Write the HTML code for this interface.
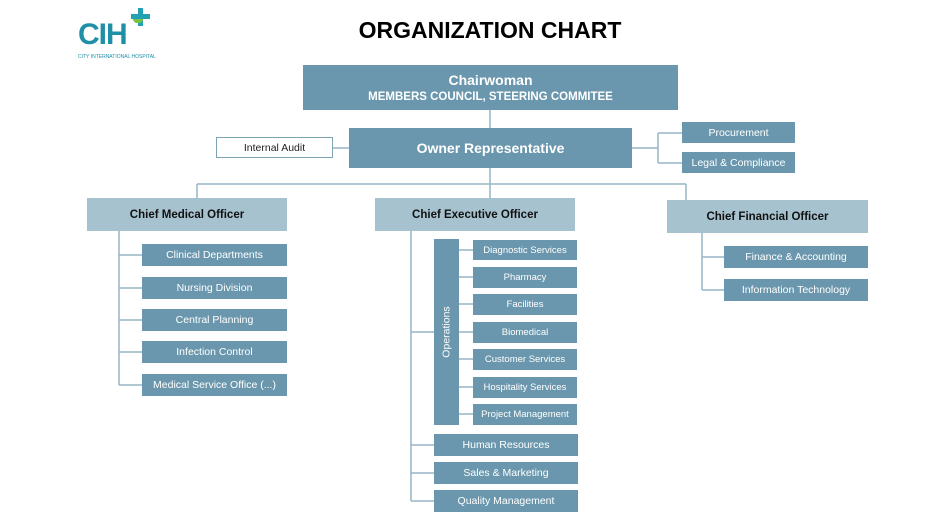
<!DOCTYPE html>
<html><head><meta charset="utf-8"><style>
body{margin:0;width:943px;height:526px;background:#fff;position:relative;overflow:hidden;font-family:"Liberation Sans",sans-serif}
.b{position:absolute;background:#6a97ad;color:#fff;display:flex;align-items:center;justify-content:center;font-size:10.5px;white-space:nowrap;box-sizing:border-box}
.l{background:#a6c2cf;color:#111;font-weight:bold;font-size:11.5px}
svg{position:absolute;left:0;top:0}
</style></head><body>
<svg width="943" height="526">
<g stroke="#97b6c6" stroke-width="1.5" fill="none">
<path d="M490 110V128M333 148H349M632 148H658M658 133V163M658 133H682M658 163H682"/>
<path d="M490 168V198M197 184H686M197 184V198M686 184V200"/>
<path d="M119 231V385M119 255H142M119 288H142M119 320H142M119 352H142M119 385H142"/>
<path d="M411 231V501M411 332H434M411 445H434M411 473H434M411 501H434"/>
<path d="M459 250H473M459 277H473M459 304H473M459 332H473M459 359H473M459 387H473M459 414H473"/>
<path d="M702 233V290M702 257H724M702 290H724"/>
</g>
</svg>
<div style="position:absolute;left:78px;top:18px;font-size:30px;font-weight:bold;color:#1f8fa6;letter-spacing:-1px">CIH</div>
<div style="position:absolute;left:138px;top:8px;width:5px;height:18px;background:#23a0b3"></div>
<div style="position:absolute;left:131px;top:14px;width:19px;height:5px;background:#23a0b3"></div>
<div style="position:absolute;left:133px;top:19px;width:10px;height:4px;background:#7ac143;border-radius:0 0 6px 6px"></div>
<div style="position:absolute;left:78px;top:54px;font-size:5px;color:#1f8fa6">CITY INTERNATIONAL HOSPITAL</div>
<div style="position:absolute;left:340px;top:17px;width:300px;text-align:center;font-size:23px;font-weight:bold;color:#000">ORGANIZATION CHART</div>

<div class="b" style="left:303px;top:65px;width:375px;height:45px;flex-direction:column;font-weight:bold;font-size:11.5px"><div style="font-size:14px">Chairwoman</div><div style="margin-top:3px">MEMBERS COUNCIL, STEERING COMMITEE</div></div>
<div class="b" style="left:349px;top:128px;width:283px;height:40px;font-weight:bold;font-size:14px">Owner Representative</div>
<div class="b" style="left:216px;top:137px;width:117px;height:21px;background:#fff;color:#222;border:1px solid #7fa3b6">Internal Audit</div>
<div class="b" style="left:682px;top:122px;width:113px;height:21px">Procurement</div>
<div class="b" style="left:682px;top:152px;width:113px;height:21px">Legal &amp; Compliance</div>

<div class="b l" style="left:87px;top:198px;width:200px;height:33px">Chief Medical Officer</div>
<div class="b l" style="left:375px;top:198px;width:200px;height:33px">Chief Executive Officer</div>
<div class="b l" style="left:667px;top:200px;width:201px;height:33px">Chief Financial Officer</div>

<div class="b" style="left:142px;top:244px;width:145px;height:22px">Clinical Departments</div>
<div class="b" style="left:142px;top:277px;width:145px;height:22px">Nursing Division</div>
<div class="b" style="left:142px;top:309px;width:145px;height:22px">Central Planning</div>
<div class="b" style="left:142px;top:341px;width:145px;height:22px">Infection Control</div>
<div class="b" style="left:142px;top:374px;width:145px;height:22px">Medical Service Office (...)</div>

<div class="b" style="left:434px;top:239px;width:25px;height:186px"><span style="transform:rotate(-90deg);display:inline-block">Operations</span></div>
<div class="b" style="left:473px;top:240px;width:104px;height:20px;font-size:9.5px">Diagnostic Services</div>
<div class="b" style="left:473px;top:267px;width:104px;height:21px;font-size:9.5px">Pharmacy</div>
<div class="b" style="left:473px;top:294px;width:104px;height:21px;font-size:9.5px">Facilities</div>
<div class="b" style="left:473px;top:322px;width:104px;height:21px;font-size:9.5px">Biomedical</div>
<div class="b" style="left:473px;top:349px;width:104px;height:21px;font-size:9.5px">Customer Services</div>
<div class="b" style="left:473px;top:377px;width:104px;height:21px;font-size:9.5px">Hospitality Services</div>
<div class="b" style="left:473px;top:404px;width:104px;height:21px;font-size:9.5px;overflow:hidden">Project Management</div>

<div class="b" style="left:434px;top:434px;width:144px;height:22px">Human Resources</div>
<div class="b" style="left:434px;top:462px;width:144px;height:22px">Sales &amp; Marketing</div>
<div class="b" style="left:434px;top:490px;width:144px;height:22px">Quality Management</div>

<div class="b" style="left:724px;top:246px;width:144px;height:22px">Finance &amp; Accounting</div>
<div class="b" style="left:724px;top:279px;width:144px;height:22px">Information Technology</div>
</body></html>
